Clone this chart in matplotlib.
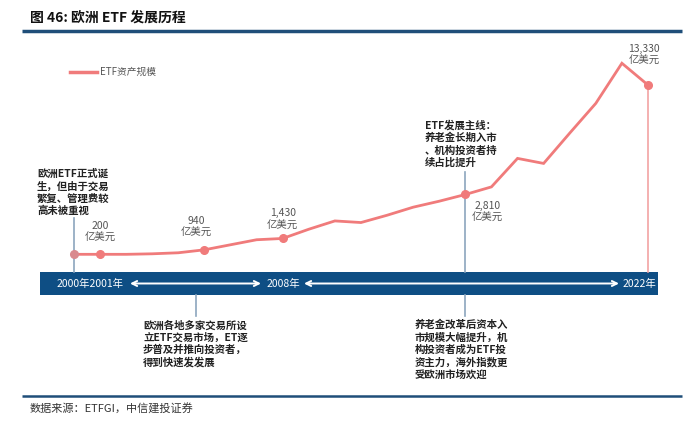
import matplotlib
matplotlib.use("Agg")
import matplotlib.pyplot as plt
from matplotlib.patches import Rectangle

plt.rcParams['font.family'] = ['Noto Sans CJK SC', 'DejaVu Sans']

# ---- data (亿美元, values) ----
years = [2000, 2001, 2002, 2003, 2004, 2005, 2006, 2007, 2008, 2009, 2010, 2011,
         2012, 2013, 2014, 2015, 2016, 2017, 2018, 2019, 2020, 2021, 2022]
aum = [200, 200, 200, 240, 320, 550, 940, 1330, 1430, 2145, 2790, 2665,
       3230, 3855, 4320, 4840, 5430, 7640, 7250, 9600, 11910, 15020, 13330]
marked_years = [2000, 2001, 2005, 2008, 2015, 2022]
marked_labels = ["", "200\n亿美元", "940\n亿美元", "1,430\n亿美元", "2,810\n亿美元", "13,330\n亿美元"]
title = "图 46: 欧洲 ETF 发展历程"
legend_label = "ETF资产规模"
source = "数据来源：ETFGI，中信建投证券"
timeline_labels = ["2000年2001年", "2008年", "2022年"]
note_2000 = "欧洲ETF正式诞\n生，但由于交易\n繁复、管理费较\n高未被重视"
note_main = "ETF发展主线：\n养老金长期入市\n、机构投资者持\n续占比提升"
note_low1 = "欧洲各地多家交易所设\n立ETF交易市场，ET逐\n步普及并推向投资者，\n得到快速发发展"
note_low2 = "养老金改革后资本入\n市规模大幅提升，机\n构投资者成为ETF投\n资主力，海外指数更\n受欧洲市场欢迎"

W, H = 700, 424
fig = plt.figure(figsize=(W / 100, H / 100), dpi=100)
fig.patch.set_facecolor("white")

# overlay axes in pixel coordinates (y downward)
ov = fig.add_axes([0, 0, 1, 1])
ov.set_xlim(0, W)
ov.set_ylim(H, 0)
ov.axis("off")

LINE = "#F07B7B"
NAVY = "#0E4E84"
TXT = "#222222"
GRAY = "#555555"

# chart axes
ax = fig.add_axes([40 / W, (H - 300) / H, 620 / W, 260 / H])
ax.patch.set_alpha(0)
ax.axis("off")
ax.set_xlim(1998.70, 2022.46)
ax.set_ylim(-3343, 16823)
ax.plot(years, aum, color=LINE, lw=2, zorder=5, solid_joinstyle="miter")
for yr in marked_years:
    v = aum[years.index(yr)]
    c = "#D98A8E" if yr == 2000 else LINE
    ax.plot([yr], [v], "o", color=c, ms=5.5, zorder=6)


def px_of(year, value=0):
    x, y = ax.transData.transform((year, value))
    return x, H - y


# title & rules
ov.text(30, 18, title, fontsize=10, fontweight="bold", color="#111111", va="center", ha="left")
ov.plot([22, 682], [31, 31], color="#1F4E79", lw=2.5, solid_capstyle="butt")
ov.plot([22, 682], [396, 396], color="#1F4E79", lw=1.8, solid_capstyle="butt")
ov.text(30, 409, source, fontsize=8, style="italic", color="#333333", va="center", ha="left")

# legend
ov.plot([70, 97], [72, 72], color=LINE, lw=2.5)
ov.text(100, 72, legend_label, fontsize=7, color=GRAY, va="center", ha="left")

# timeline bar
ov.add_patch(Rectangle((40, 272), 618, 23, facecolor=NAVY, edgecolor="none", zorder=2))
ov.text(57, 283.5, timeline_labels[0], fontsize=7.5, color="white", va="center", ha="left", zorder=3)
ov.text(267, 283.5, timeline_labels[1], fontsize=7.5, color="white", va="center", ha="left", zorder=3)
ov.text(656, 283.5, timeline_labels[2], fontsize=7.5, color="white", va="center", ha="right", zorder=3)
for x0, x1 in [(130, 261), (304, 619)]:
    ov.annotate("", xy=(x1, 283.5), xytext=(x0, 283.5),
                arrowprops=dict(arrowstyle="<->", color="white", lw=1.4,
                                shrinkA=0, shrinkB=0, mutation_scale=9), zorder=3)

# vertical connector lines
VL = "#8CA6BD"
x2000, _ = px_of(2000)
x2005, _ = px_of(2005)
x2015, _ = px_of(2015)
x2022, y2022 = px_of(2022, aum[-1])
ov.plot([x2000, x2000], [218, 272], color=VL, lw=1.2)
ov.plot([x2005 - 8, x2005 - 8], [295, 316], color=VL, lw=1.2)
ov.plot([x2015, x2015], [172, 272], color=VL, lw=1.2)
ov.plot([x2015, x2015], [295, 316], color=VL, lw=1.2)
ov.plot([x2022, x2022], [y2022, 272], color="#F2A3A3", lw=1.2)

# value labels
offsets = {2001: (0, -22), 2005: (-8, -23), 2008: (0, -19), 2015: (22, 17), 2022: (-4, -30)}
for yr, lab in zip(marked_years, marked_labels):
    if not lab:
        continue
    x, y = px_of(yr, aum[years.index(yr)])
    dx, dy = offsets[yr]
    ov.text(x + dx, y + dy, lab, fontsize=7.5, color=GRAY, ha="center", va="center",
            linespacing=1.25)

# notes
ov.text(37, 192.5, note_2000, fontsize=7.5, color=TXT, ha="left", va="center",
        fontweight="bold", linespacing=1.25)
ov.text(425, 144, note_main, fontsize=7.5, color=TXT, ha="left", va="center",
        fontweight="bold", linespacing=1.25)
ov.text(143, 344, note_low1, fontsize=7.5, color=TXT, ha="left", va="center",
        fontweight="bold", linespacing=1.25)
ov.text(415, 350, note_low2, fontsize=7.5, color=TXT, ha="left", va="center",
        fontweight="bold", linespacing=1.25)

fig.savefig("out.png", dpi=100)
